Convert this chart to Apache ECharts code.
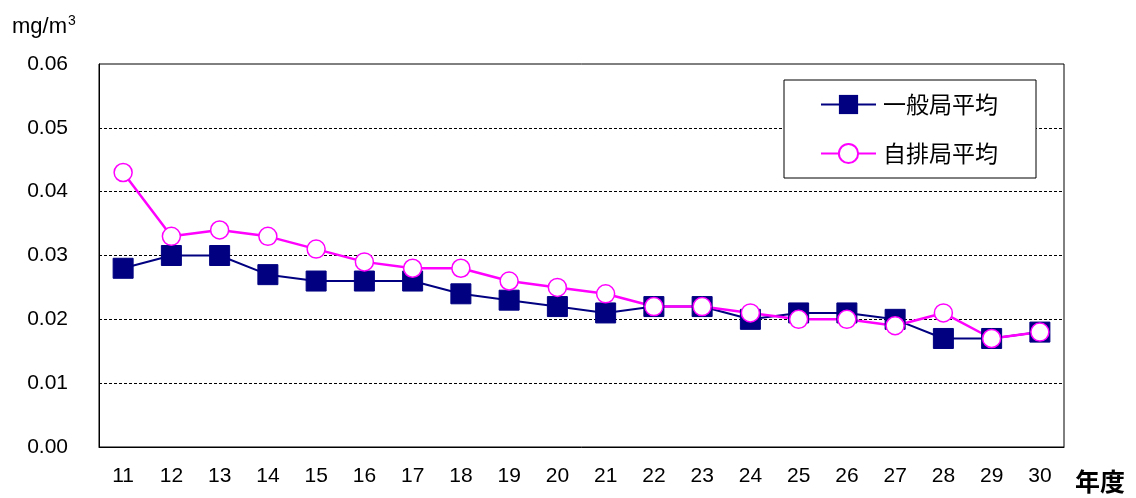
<!DOCTYPE html>
<html>
<head>
<meta charset="utf-8">
<script src="https://cdn.jsdelivr.net/npm/echarts@6/dist/echarts.min.js"></script>
<style>html,body{margin:0;padding:0;background:#fff;}#c{width:1136px;height:498px;}</style>
</head>
<body>
<div id="c"></div>
<script>
const categories = ['11','12','13','14','15','16','17','18','19','20','21','22','23','24','25','26','27','28','29','30'];
const ippan = [0.028,0.030,0.030,0.027,0.026,0.026,0.026,0.024,0.023,0.022,0.021,0.022,0.022,0.020,0.021,0.021,0.020,0.017,0.017,0.018];
const jihai = [0.043,0.033,0.034,0.033,0.031,0.029,0.028,0.028,0.026,0.025,0.024,0.022,0.022,0.021,0.020,0.020,0.019,0.021,0.017,0.018];
const yTicks = [0, 0.01, 0.02, 0.03, 0.04, 0.05, 0.06];

const chart = echarts.init(document.getElementById('c'));
const numFont = '"Liberation Sans", Arial, sans-serif';
const jpFont = '"Noto Sans CJK JP", sans-serif';
chart.setOption({
  animation: false,
  backgroundColor: '#fff',
  grid: { left: 99, right: 72, top: 64, bottom: 51, show: true, borderColor: '#000', borderWidth: 1, containLabel: false },
  legend: {
    orient: 'vertical', left: 784, top: 80,
    backgroundColor: '#fff', borderColor: '#000', borderWidth: 1,
    padding: [13, 38, 13, 36], itemGap: 26, itemWidth: 55, itemHeight: 24,
    textStyle: { fontSize: 23, fontFamily: jpFont, color: '#000', padding: [0,0,0,2] },
    data: ['一般局平均', '自排局平均']
  },
  graphic: [
    { type: 'text', left: 12, top: 14, style: { rich: { a: { fontSize: 22, fontFamily: numFont, fill: '#000' }, s: { fontSize: 14, fontFamily: numFont, fill: '#000', verticalAlign: 'top', padding: [0,0,12,1] } }, text: '{a|mg/m}{s|3}' } },
    { type: 'text', left: 1075, top: 469, style: { text: '年度', fontSize: 25, fontWeight: 'bold', fontFamily: jpFont, fill: '#000' } }
  ],
  xAxis: {
    type: 'category', data: categories, boundaryGap: true,
    axisLine: { lineStyle: { color: '#000', width: 1 } },
    axisTick: { inside: true, length: 8, lineStyle: { color: '#000' } },
    axisLabel: { fontSize: 21, fontFamily: numFont, color: '#000', margin: 19 }
  },
  yAxis: {
    type: 'value', min: 0, max: 0.06, interval: 0.01,
    axisLine: { show: true, lineStyle: { color: '#000', width: 1 } },
    axisTick: { show: false },
    axisLabel: { fontSize: 21, fontFamily: numFont, color: '#000', margin: 31, formatter: v => v.toFixed(2) },
    splitLine: { show: true, showMaxLine: false, showMinLine: false, lineStyle: { color: '#000', type: [3, 2], width: 1 } }
  },
  series: [
    { name: '一般局平均', type: 'line', data: ippan, symbol: 'rect', symbolSize: 20,
      lineStyle: { color: '#000080', width: 2 }, itemStyle: { color: '#000080', borderColor: '#000080' } },
    { name: '自排局平均', type: 'line', data: jihai, symbol: 'circle', symbolSize: 18,
      lineStyle: { color: '#ff00ff', width: 2.5 }, itemStyle: { color: '#fff', borderColor: '#ff00ff', borderWidth: 1.5 } }
  ]
});
</script>
</body>
</html>
